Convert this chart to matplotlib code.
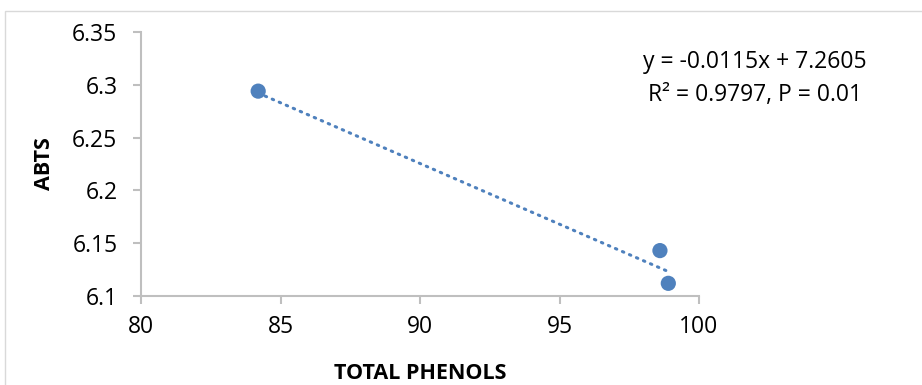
import matplotlib
matplotlib.use("Agg")
import matplotlib.pyplot as plt
from matplotlib.patches import Rectangle
import numpy as np

total_phenols = [84.2, 98.6, 98.9]
abts = [6.294, 6.143, 6.112]
slope = -0.0115
intercept = 7.2605
x_ticks = [80, 85, 90, 95, 100]
y_ticks = [6.1, 6.15, 6.2, 6.25, 6.3, 6.35]
y_tick_labels = ["6.1", "6.15", "6.2", "6.25", "6.3", "6.35"]

plt.rcParams['font.family'] = ['Open Sans', 'DejaVu Sans']

fig = plt.figure(figsize=(9.22, 3.85), dpi=100)
fig.patches.append(Rectangle((5/922, -0.01), 1.0, 1 - 11/385 + 0.01, transform=fig.transFigure,
                             fill=False, edgecolor='#D9D9D9', linewidth=1.0))
ax = fig.add_axes([141/922, 1 - 296/385, (699 - 141)/922, (296 - 32)/385])

blue = '#4F81BD'
xl = np.array([min(total_phenols), max(total_phenols)])
ax.plot(xl, slope * xl + intercept, linestyle=(0, (0.5, 2.0)), dash_capstyle='round',
        color=blue, linewidth=2.2, zorder=2)
ax.scatter(total_phenols, abts, s=120, color=blue, zorder=3, edgecolors='none')

ax.set_xlim(80, 100)
ax.set_ylim(6.1, 6.35)
ax.set_xticks(x_ticks)
ax.set_yticks(y_ticks)
ax.set_yticklabels(y_tick_labels)
for s in ['top', 'right']:
    ax.spines[s].set_visible(False)
for s in ['left', 'bottom']:
    ax.spines[s].set_color('#BFBFBF')
    ax.spines[s].set_linewidth(1.5)
ax.tick_params(axis='both', direction='out', length=6, width=1.5, color='#BFBFBF',
               labelsize=16.5, labelcolor='#000000')
ax.tick_params(axis='x', pad=8)
ax.tick_params(axis='y', pad=11)

ax.set_xlabel('TOTAL PHENOLS', fontsize=15.5, fontweight='bold', labelpad=17)
ax.yaxis.set_label_coords(-(141 - 44)/558, (296 - 167)/264)
ax.set_ylabel('ABTS', fontsize=15.5, fontweight='bold', va='center')

fig.text(755/922, 1 - 62/385, 'y = -0.0115x + 7.2605', ha='center', va='center', fontsize=16.5)
fig.text(755/922, 1 - 95/385, 'R² = 0.9797, P = 0.01', ha='center', va='center', fontsize=16.5)

fig.savefig('out.png', dpi=100)
